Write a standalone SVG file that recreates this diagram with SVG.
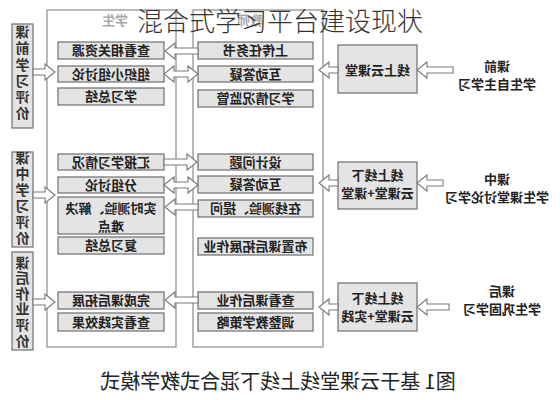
<svg xmlns="http://www.w3.org/2000/svg" width="560" height="400" viewBox="0 0 560 400">
<style>
.big{fill:#fff;stroke:#8a8a8a;stroke-width:1.2}
.box{fill:#e4e4e4;stroke:#6e6e6e;stroke-width:1.2}
.arr{fill:#fff;stroke:#7a7a7a;stroke-width:1.1}
.t{font-family:"Noto Sans CJK SC","Noto Sans",sans-serif;font-size:13px;font-weight:bold;fill:#222;text-anchor:middle}
.v{font-family:"Noto Sans CJK SC","Noto Sans",sans-serif;font-size:14px;font-weight:bold;fill:#333;text-anchor:middle;writing-mode:vertical-rl}
.h{font-family:"Noto Sans CJK SC","Noto Sans",sans-serif;font-size:13px;font-weight:bold;fill:#aaa;text-anchor:middle}
.cap{font-family:"Noto Sans CJK SC","Noto Sans",sans-serif;font-size:20px;font-weight:normal;fill:#222;text-anchor:middle}
.title{font-family:"Noto Sans CJK SC","Noto Sans",sans-serif;font-size:26px;font-weight:300;fill:#333;text-anchor:middle}
</style>
<rect width="560" height="400" fill="#fff"/>
<g id="diagram" transform="matrix(-1,0,0,1,560,0)">
  <g id="student-column">
    <rect class="big" x="384" y="10" width="129" height="337"/>
    <text class="h" x="445" y="25">学生</text>
  </g>
  <g id="teacher-column">
    <rect class="big" x="237" y="10" width="130" height="337"/>
    <text class="h" x="310" y="25">教师</text>
  </g>
  <g id="eval-pre"><rect class="box" x="527" y="24" width="21" height="104"/>
    <text class="v" x="537.5" y="73.5" letter-spacing="2.2">课前学习评价</text></g>
  <g id="eval-in"><rect class="box" x="527" y="152" width="21" height="95"/>
    <text class="v" x="537.5" y="199" letter-spacing="2">课中学习评价</text></g>
  <g id="eval-post"><rect class="box" x="527" y="252" width="21" height="98"/>
    <text class="v" x="537.5" y="302" letter-spacing="1.6">课后作业评价</text></g>

  <g id="s1"><rect class="box" x="396" y="42" width="106" height="17"/><text class="t" x="449" y="55">查看相关资源</text></g>
  <g id="s2"><rect class="box" x="396" y="66" width="106" height="16"/><text class="t" x="449" y="78.5">组织小组讨论</text></g>
  <g id="s3"><rect class="box" x="396" y="88" width="106" height="17"/><text class="t" x="449" y="101">学习总结</text></g>
  <g id="s4"><rect class="box" x="396" y="154" width="106" height="16"/><text class="t" x="449" y="166.5">汇报学习情况</text></g>
  <g id="s5"><rect class="box" x="396" y="177" width="106" height="16"/><text class="t" x="449" y="189.5">分组讨论</text></g>
  <g id="s6"><rect class="box" x="396" y="197" width="106" height="37"/><text class="t" x="449" y="212.5">实时测验、解决</text><text class="t" x="449" y="230.5">难点</text></g>
  <g id="s7"><rect class="box" x="396" y="237" width="106" height="17"/><text class="t" x="449" y="250">复习总结</text></g>
  <g id="s8"><rect class="box" x="396" y="292" width="106" height="17"/><text class="t" x="449" y="305">完成课后拓展</text></g>
  <g id="s9"><rect class="box" x="396" y="313" width="106" height="18"/><text class="t" x="449" y="326.5">查看实践效果</text></g>

  <g id="t1"><rect class="box" x="247" y="42" width="115" height="17"/><text class="t" x="304.5" y="55">上传任务书</text></g>
  <g id="t2"><rect class="box" x="247" y="66" width="115" height="16"/><text class="t" x="304.5" y="78.5">互动答疑</text></g>
  <g id="t3"><rect class="box" x="247" y="90" width="115" height="17"/><text class="t" x="304.5" y="103">学习情况监管</text></g>
  <g id="t4"><rect class="box" x="247" y="154" width="115" height="16"/><text class="t" x="304.5" y="166.5">设计问题</text></g>
  <g id="t5"><rect class="box" x="247" y="176" width="115" height="17"/><text class="t" x="304.5" y="189">互动答疑</text></g>
  <g id="t6"><rect class="box" x="247" y="200" width="115" height="17"/><text class="t" x="304.5" y="213">在线测验、提问</text></g>
  <g id="t7"><rect class="box" x="247" y="238" width="115" height="17"/><text class="t" x="304.5" y="251">布置课后拓展作业</text></g>
  <g id="t8"><rect class="box" x="247" y="292" width="115" height="17"/><text class="t" x="304.5" y="305">查看课后作业</text></g>
  <g id="t9"><rect class="box" x="247" y="313" width="115" height="18"/><text class="t" x="304.5" y="326.5">调整教学策略</text></g>

  <g id="p1"><rect class="box" x="143" y="45" width="79" height="48"/><text class="t" x="182.5" y="74.5">线上云课堂</text></g>
  <g id="p2"><rect class="box" x="143" y="162" width="79" height="47"/><text class="t" x="182.5" y="179.5">线上线下</text><text class="t" x="182.5" y="197.5">云课堂+课堂</text></g>
  <g id="p3"><rect class="box" x="143" y="283" width="79" height="48"/><text class="t" x="182.5" y="302.5">线上线下</text><text class="t" x="182.5" y="320.5">云课堂+实践</text></g>

  <g id="l1"><text class="t" x="63" y="70.5">课前</text><text class="t" x="63" y="88.5">学生自主学习</text></g>
  <g id="l2"><text class="t" x="63" y="184">课中</text><text class="t" x="63" y="202">学生课堂讨论学习</text></g>
  <g id="l3"><text class="t" x="58" y="295.5">课后</text><text class="t" x="58" y="313.5">学生巩固学习</text></g>

  <g id="connectors">
    <path class="arr" d="M107,67 L133,67 L133,62 L143,70 L133,78 L133,73 L107,73 Z"/>
    <path class="arr" d="M222,67 L231,67 L231,62 L241,70 L231,78 L231,73 L222,73 Z"/>
    <path class="arr" d="M117,180 L133,180 L133,175 L143,183 L133,191 L133,186 L117,186 Z"/>
    <path class="arr" d="M222,180 L231,180 L231,175 L241,183 L231,191 L231,186 L222,186 Z"/>
    <path class="arr" d="M111,304 L133,304 L133,299 L143,307 L133,315 L133,310 L111,310 Z"/>
    <path class="arr" d="M222,304 L231,304 L231,299 L241,307 L231,315 L231,310 L222,310 Z"/>

    <path class="arr" d="M362,48 L385,48 L385,43 L395,51 L385,59 L385,54 L362,54 Z"/>
    <path class="arr" d="M362,74 L372,66 L372,71 L386,71 L386,66 L396,74 L386,82 L386,77 L372,77 L372,82 Z"/>
    <path class="arr" d="M396,159 L373,159 L373,154 L363,162 L373,170 L373,165 L396,165 Z"/>
    <path class="arr" d="M362,185 L372,177 L372,182 L386,182 L386,177 L396,185 L386,193 L386,188 L372,188 L372,193 Z"/>
    <path class="arr" d="M362,204 L385,204 L385,199 L395,207 L385,215 L385,210 L362,210 Z"/>
    <path class="arr" d="M362,297 L385,297 L385,292 L395,300 L385,308 L385,303 L362,303 Z"/>

    <path class="arr" d="M527,69 L515,69 L515,64 L505,72 L515,80 L515,75 L527,75 Z"/>
    <path class="arr" d="M527,192 L515,192 L515,187 L505,195 L515,203 L515,198 L527,198 Z"/>
    <path class="arr" d="M527,299 L515,299 L515,294 L505,302 L515,310 L515,305 L527,305 Z"/>
  </g>
  <text class="cap" x="282" y="389">图1 基于云课堂线上线下混合式教学模式</text>
</g>
<text class="title" x="280" y="31">混合式学习平台建设现状</text>
</svg>
